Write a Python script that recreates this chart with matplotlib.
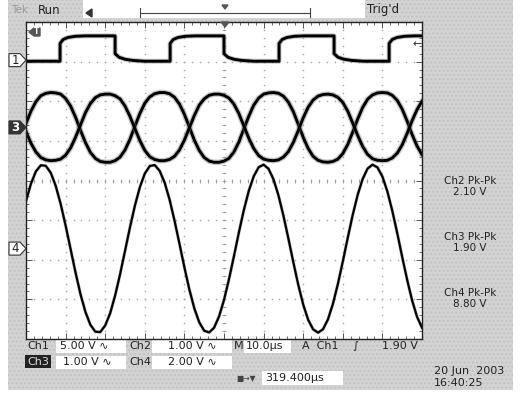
import numpy as np
import matplotlib
matplotlib.use("Agg")
import matplotlib.pyplot as plt
from matplotlib.patches import Rectangle, Polygon

W, H = 523, 393

# time base: 10 us/div, 81 samples across the screen
t_us = np.linspace(-50, 50, 81)

# Ch1: square wave (volts), edge points
ch1_t = [-50, -41.4, -41.4, -40.6, -39.4, -37.5, -35.0, -27.5, -27.5, -26.5, -25.0, -23.0, -20.0,
         -13.6, -13.6, -12.8, -11.6, -9.7, -7.2, 0.0, 0.0, 1.0, 2.5, 4.5, 7.5,
         13.9, 13.9, 14.7, 15.9, 17.8, 20.3, 27.8, 27.8, 28.8, 30.3, 32.3, 35.3,
         41.7, 41.7, 42.5, 43.7, 45.6, 48.1, 50.0]
ch1_v = [-0.15, -0.15, 2.10, 2.60, 2.85, 3.00, 3.05, 3.05, 0.80, 0.35, 0.10, -0.05, -0.15,
         -0.15, 2.10, 2.60, 2.85, 3.00, 3.05, 3.05, 0.80, 0.35, 0.10, -0.05, -0.15,
         -0.15, 2.10, 2.60, 2.85, 3.00, 3.05, 3.05, 0.80, 0.35, 0.10, -0.05, -0.15,
         -0.15, 2.10, 2.60, 2.85, 3.00, 3.05, 3.05]

# Ch2 (volts)
ch2_v = [0.10, 0.41, 0.65, 0.80, 0.86, 0.88, 0.87, 0.84, 0.73, 0.54, 0.26, -0.07, -0.38, -0.63,
         -0.78, -0.86, -0.88, -0.88, -0.84, -0.75, -0.57, -0.30, 0.03, 0.35, 0.61, 0.77, 0.85,
         0.88, 0.88, 0.85, 0.76, 0.59, 0.33, 0.01, -0.32, -0.58, -0.76, -0.85, -0.88, -0.88,
         -0.85, -0.78, -0.62, -0.37, -0.04, 0.28, 0.56, 0.74, 0.84, 0.87, 0.88, 0.86, 0.79,
         0.64, 0.40, 0.08, -0.25, -0.53, -0.73, -0.83, -0.87, -0.88, -0.86, -0.80, -0.66,
         -0.43, -0.12, 0.21, 0.50, 0.71, 0.82, 0.87, 0.88, 0.87, 0.81, 0.68, 0.46, 0.16,
         -0.18, -0.47, -0.69]

# Ch3 (volts)
ch3_v = [-0.10, -0.40, -0.62, -0.76, -0.82, -0.84, -0.83, -0.80, -0.70, -0.52, -0.25, 0.06, 0.37,
         0.60, 0.75, 0.82, 0.84, 0.84, 0.80, 0.72, 0.54, 0.28, -0.03, -0.33, -0.58, -0.74,
         -0.81, -0.84, -0.84, -0.81, -0.73, -0.57, -0.32, -0.01, 0.30, 0.56, 0.72, 0.81, 0.84,
         0.84, 0.81, 0.74, 0.59, 0.35, 0.04, -0.27, -0.53, -0.71, -0.80, -0.83, -0.84, -0.82,
         -0.75, -0.61, -0.38, -0.08, 0.24, 0.51, 0.69, 0.79, 0.83, 0.84, 0.82, 0.76, 0.63,
         0.41, 0.11, -0.20, -0.48, -0.68, -0.79, -0.83, -0.84, -0.83, -0.77, -0.65, -0.44,
         -0.15, 0.17, 0.45, 0.66]

# Ch4 (volts)
ch4_v = [2.40, 3.28, 3.90, 4.21, 4.18, 3.83, 3.17, 2.26, 1.17, -0.01, -1.20, -2.29, -3.19, -3.84,
         -4.19, -4.21, -3.88, -3.26, -2.37, -1.30, -0.12, 1.07, 2.17, 3.10, 3.79, 4.17, 4.22,
         3.93, 3.34, 2.48, 1.42, 0.25, -0.94, -2.06, -3.01, -3.72, -4.14, -4.23, -3.99, -3.42,
         -2.59, -1.55, -0.39, 0.81, 1.94, 2.91, 3.65, 4.11, 4.24, 4.03, 3.50, 2.69, 1.67, 0.52,
         -0.68, -1.82, -2.82, -3.59, -4.07, -4.24, -4.07, -3.57, -2.79, -1.79, -0.65, 0.55,
         1.70, 2.71, 3.51, 4.04, 4.24, 4.10, 3.64, 2.89, 1.91, 0.78, -0.42, -1.57, -2.61,
         -3.44, -3.99]

# volts/div and ground position (div)
scale = {"ch1": 5.0, "ch2": 1.0, "ch3": 1.0, "ch4": 2.0}
pos = {"ch1": 3.04, "ch2": 1.34, "ch3": 1.34, "ch4": -1.72}

pk_labels = [("Ch2 Pk-Pk", "2.10 V"), ("Ch3 Pk-Pk", "1.90 V"), ("Ch4 Pk-Pk", "8.80 V")]


def fx(x):
    return x / W


def fy(y):
    return 1 - y / H


def ftext(x, y, s, **kw):
    kw.setdefault("fontsize", 8)
    kw.setdefault("va", "center")
    kw.setdefault("color", "#222222")
    fig.text(fx(x), fy(y), s, **kw)


def fbox(x0, y0, x1, y1, color="white"):
    fig.add_artist(Rectangle((fx(x0), fy(y1)), fx(x1 - x0), (y1 - y0) / H,
                             transform=fig.transFigure, facecolor=color, edgecolor="none",
                             zorder=-5))


fig = plt.figure(figsize=(W / 100, H / 100), dpi=100)
fig.patch.set_facecolor("white")

# gray instrument background
fig.add_artist(Rectangle((fx(8), fy(390)), fx(505), 390 / H, transform=fig.transFigure,
                         facecolor="#d3d3d3", edgecolor="#c2c2c2", hatch="....", linewidth=0,
                         zorder=-10))

# top bar
fbox(83, 0, 365, 18)
ftext(11, 10, "Tek", color="#9a9a9a", fontsize=7.5)
ftext(38, 10, "Run", fontsize=8.5)
ftext(367, 10, "Trig'd", fontsize=8.5)
fig.add_artist(plt.Line2D([fx(140), fx(310)], [fy(12.5), fy(12.5)], color="#444444", lw=0.8))
for xe in (140, 310):
    fig.add_artist(plt.Line2D([fx(xe), fx(xe)], [fy(8), fy(17)], color="#444444", lw=0.8))
fig.add_artist(Polygon([(fx(222), fy(5)), (fx(228), fy(5)), (fx(225), fy(9))],
                       closed=True, transform=fig.transFigure, color="#555555"))
fig.add_artist(Polygon([(fx(86), fy(13)), (fx(92), fy(9)), (fx(92), fy(17))],
                       closed=True, transform=fig.transFigure, color="#333333"))

# screen
ax = fig.add_axes([fx(26), fy(339), fx(396), 317 / H])
ax.set_facecolor("white")
ax.set_xlim(-50, 50)
ax.set_ylim(-4, 4)

# graticule dots
for gx in range(-40, 50, 10):
    ys = np.arange(-4, 4.01, 0.2)
    ax.plot(np.full_like(ys, gx), ys, ls="none", marker="s", ms=1.0, color="#a5a5a5", mew=0)
for gy in range(-3, 4):
    xs = np.arange(-50, 50.01, 2)
    ax.plot(xs, np.full_like(xs, gy), ls="none", marker="s", ms=1.0, color="#a5a5a5", mew=0)
ax.plot(np.arange(-50, 50.01, 2), np.zeros(51), ls="none", marker="|", ms=3, color="#999999", mew=0.6)
ax.plot(np.zeros(41), np.arange(-4, 4.01, 0.2), ls="none", marker="_", ms=3, color="#999999", mew=0.6)

ax.set_xticks(np.arange(-50, 51, 10))
ax.set_yticks(np.arange(-4, 5, 1))
ax.set_xticks(np.arange(-50, 51, 2), minor=True)
ax.set_yticks(np.arange(-4, 4.01, 0.2), minor=True)
ax.tick_params(which="both", direction="in", top=True, right=True,
               labelbottom=False, labelleft=False, color="#555555")
ax.tick_params(which="major", length=4, width=0.7)
ax.tick_params(which="minor", length=2.5, width=0.6)
for sp in ax.spines.values():
    sp.set_linewidth(1.0)
    sp.set_color("#222222")


def trace(tv, vv, ch, lw, fuzz):
    y = pos[ch] + np.asarray(vv) / scale[ch]
    ax.plot(tv, y, color="#6f6f6f", lw=lw + fuzz, alpha=0.4, solid_joinstyle="round")
    ax.plot(tv, y, color="black", lw=lw, solid_joinstyle="round")


trace(ch1_t, ch1_v, "ch1", 2.1, 1.4)
trace(t_us, ch2_v, "ch2", 2.1, 1.8)
trace(t_us, ch3_v, "ch3", 2.1, 1.8)
trace(t_us, ch4_v, "ch4", 1.6, 0.8)

# trigger position and level markers on the screen
fig.add_artist(Polygon([(fx(221), fy(22)), (fx(229), fy(22)), (fx(225), fy(27))],
                       closed=True, transform=fig.transFigure, color="#555555"))
ftext(417, 44, "\u2190", fontsize=8, ha="center", color="#333333")
fig.add_artist(Polygon([(fx(29), fy(32)), (fx(34), fy(28)), (fx(40), fy(28)), (fx(40), fy(36)), (fx(34), fy(36))],
                       closed=True, transform=fig.transFigure, color="#555555"))
ftext(36.5, 32, "T", fontsize=5.5, ha="center", color="white", weight="bold")


def chan_marker(ch, label, dark=False):
    yc = 180.5 - pos[ch] * 39.6
    pts = [(fx(9), fy(yc - 6.5)), (fx(20), fy(yc - 6.5)), (fx(26), fy(yc)),
           (fx(20), fy(yc + 6.5)), (fx(9), fy(yc + 6.5))]
    fig.add_artist(Polygon(pts, closed=True, transform=fig.transFigure,
                           facecolor="#333333" if dark else "white", edgecolor="#333333", lw=0.8))
    ftext(15.5, yc, label, ha="center", fontsize=8.5, color="white" if dark else "#222222",
          weight="bold" if dark else "normal")


chan_marker("ch1", "1")
chan_marker("ch3", "3", dark=True)
chan_marker("ch4", "4")

# measurement readouts
for i, (name, val) in enumerate(pk_labels):
    ftext(470, 181 + 56 * i, name, ha="center", fontsize=7.5)
    ftext(470, 192 + 56 * i, val, ha="center", fontsize=7.5)

# bottom status lines
fbox(56, 340, 126, 353)
fbox(152, 340, 232, 353)
fbox(244, 340, 291, 353)
fbox(56, 356, 126, 369)
fbox(152, 356, 232, 369)
fbox(262, 371, 343, 385)
fbox(25, 355, 51, 368, color="#222222")
ftext(27, 346, "Ch1")
ftext(60, 346, "5.00 V \u223f")
ftext(129, 346, "Ch2")
ftext(168, 346, "1.00 V \u223f")
ftext(234, 346, "M")
ftext(246, 346, "10.0\u00b5s")
ftext(302, 346, "A  Ch1")
ftext(352, 346, "\u222b")
ftext(382, 346, "1.90 V")
ftext(27, 362, "Ch3", color="#dddddd")
ftext(63, 362, "1.00 V \u223f")
ftext(129, 362, "Ch4")
ftext(168, 362, "2.00 V \u223f")
ftext(236, 378, "\u25a0\u2192\u25bc", fontsize=5.5, color="#444444")
ftext(265, 378, "319.400\u00b5s")
ftext(434, 371, "20 Jun  2003")
ftext(434, 383, "16:40:25")

fig.savefig("out.png", dpi=100)
